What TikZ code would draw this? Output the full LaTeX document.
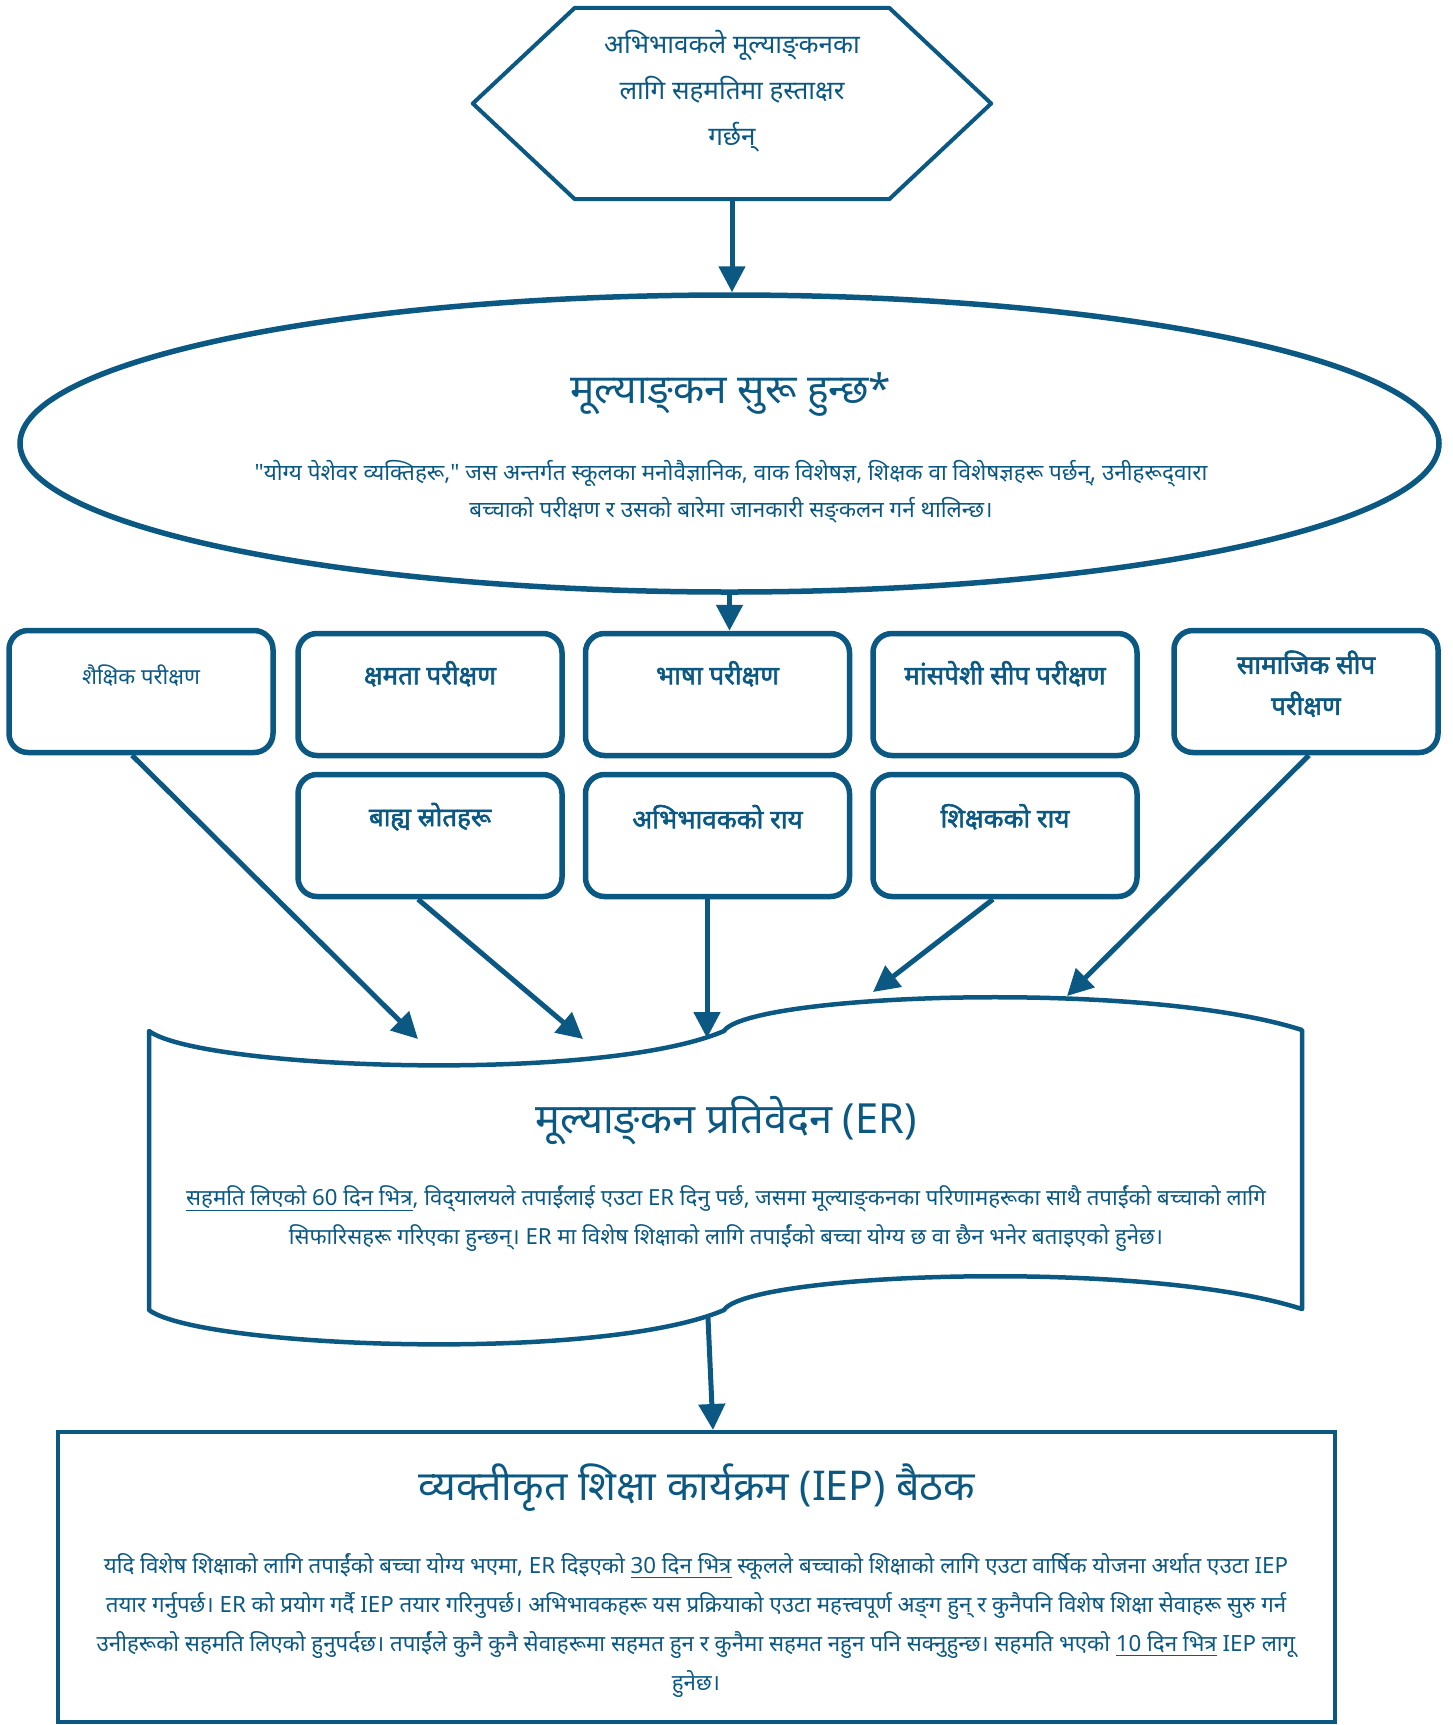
\documentclass[tikz,border=0pt]{standalone}
\usepackage{fontspec}
\setmainfont{Noto Sans}[Script=Devanagari]
\newfontfamily\boldface{Noto Sans}[Script=Devanagari, FakeBold=2.2]
\newfontfamily\plainq{Noto Sans}[Script=Devanagari]
\usetikzlibrary{arrows.meta,shapes.geometric}
\definecolor{ink}{RGB}{11,89,131}
\newcommand{\zw}{^^^^200c}
\newcommand{\qt}{{\plainq\char34}}
\begin{document}
\begin{tikzpicture}[x=1pt,y=-1pt,
  every node/.style={text=ink, inner sep=0pt},
  shapeline/.style={draw=ink, line width=4.5pt, line join=round},
  testbox/.style={draw=ink, line width=5.5pt, rounded corners=19pt, minimum width=264pt, minimum height=122pt},
  conn/.style={draw=ink, line width=5pt, -{Triangle[length=26pt,width=26pt]}},
  boxlabel/.style={font=\fontsize{26}{41}\boldface, align=center},
  plainlabel/.style={font=\fontsize{22}{41}\selectfont, align=center},
  bigtitle/.style={font=\fontsize{40.6}{48}\selectfont},
  bodytext/.style={font=\fontsize{22.3}{39}\selectfont, align=center},
  hextext/.style={font=\fontsize{26}{46}\selectfont, align=center}
]
\fill[white] (0,0) rectangle (1452,1725);
\useasboundingbox (0,0) rectangle (1452,1725);

% hexagon
\node[minimum width=518pt, minimum height=191pt] (hex) at (732,103.5) {};
\draw[shapeline, line width=4pt] (hex.west) -- ([xshift=102pt]hex.north west) -- ([xshift=-102pt]hex.north east) -- (hex.east) -- ([xshift=-102pt]hex.south east) -- ([xshift=102pt]hex.south west) -- cycle;
\node[hextext] (hext) at (732,91) {अभिभावकले मूल्याङ्\zw कनका\\लागि सहमतिमा हस्ताक्षर\\गर्छन्};

% ellipse
\node[draw=ink, line width=5.5pt, ellipse, minimum width=1419pt, minimum height=297pt] (ell) at (729.5,443.5) {};
\node[bigtitle] (elltitle) at (731,394) {मूल्याङ्\zw कन सुरू हुन्छ*};
\node[bodytext, font=\fontsize{22.5}{37}\selectfont] (ellbody) at (731,492) {\qt योग्य पेशेवर व्यक्तिहरू,\qt{} जस अन्तर्गत स्कूलका मनोवैज्ञानिक, वाक विशेषज्ञ, शिक्षक वा विशेषज्ञहरू पर्छन्, उनीहरूद्\zw वारा\\बच्चाको परीक्षण र उसको बारेमा जानकारी सङ्\zw कलन गर्न थालिन्छ।};

% test boxes
\node[testbox] (b1) at (141,691.5) {};
\node[testbox] (b2) at (430,694.5) {};
\node[testbox] (b3) at (717.5,694.5) {};
\node[testbox] (b4) at (1005,694.5) {};
\node[testbox] (b5) at (1306,691.5) {};
\node[testbox] (b6) at (430,835.5) {};
\node[testbox] (b7) at (717.5,835.5) {};
\node[testbox] (b8) at (1005,835.5) {};
\node[plainlabel] (t1) at ([yshift=-48pt]b1.north) {शैक्षिक परीक्षण};
\node[boxlabel] (t2) at ([yshift=-43pt]b2.north) {क्षमता परीक्षण};
\node[boxlabel] (t3) at ([yshift=-43pt]b3.north) {भाषा परीक्षण};
\node[boxlabel] (t4) at ([yshift=-43pt]b4.north) {मांसपेशी सीप परीक्षण};
\node[boxlabel] (t5) at ([yshift=-56pt]b5.north) {सामाजिक सीप\\परीक्षण};
\node[boxlabel] (t6) at ([yshift=-45pt]b6.north) {बाह्य स्रोतहरू};
\node[boxlabel] (t7) at ([yshift=-45pt]b7.north) {अभिभावकको राय};
\node[boxlabel] (t8) at ([yshift=-45pt]b8.north) {शिक्षकको राय};

% evaluation report (wave document)
\draw[shapeline] (149,1031) .. controls (200,1069) and (600,1084) .. (724,1031)
  .. controls (748,994) and (1143,979) .. (1302,1030) -- (1302,1309)
  .. controls (1143,1258) and (748,1273) .. (724,1310)
  .. controls (600,1363) and (200,1348) .. (149,1310) -- cycle;
\node[bigtitle, font=\fontsize{41.5}{48}\selectfont] (ertitle) at (726,1121) {मूल्याङ्\zw कन प्रतिवेदन (ER)};
\node[bodytext, font=\fontsize{22.2}{39}\selectfont] (erbody) at (726,1219) {\underline{सहमति लिएको 60 दिन भित्र}, विद्\zw यालयले तपाईंलाई एउटा ER दिनु पर्छ, जसमा मूल्याङ्\zw कनका परिणामहरूका साथै तपाईंको बच्चाको लागि\\सिफारिसहरू गरिएका हुन्छन्। ER मा विशेष शिक्षाको लागि तपाईंको बच्चा योग्य छ वा छैन भनेर बताइएको हुनेछ।};
\coordinate (in1) at (418,1039);
\coordinate (in2) at (583,1039);
\coordinate (in3) at (707,1038);
\coordinate (in4) at (873,992);
\coordinate (in5) at (1067,996);
\coordinate (erout) at (708,1318);

% IEP box
\node[draw=ink, line width=4pt, minimum width=1277pt, minimum height=290pt] (iep) at (696.5,1577) {};
\node[bigtitle, font=\fontsize{41}{48}\selectfont] (ieptitle) at (697,1488) {व्यक्तीकृत शिक्षा कार्यक्रम (IEP) बैठक};
\node[bodytext] (iepbody) at (696,1626) {यदि विशेष शिक्षाको लागि तपाईंको बच्चा योग्य भएमा, ER दिइएको \underline{30 दिन भित्र} स्कूलले बच्चाको शिक्षाको लागि एउटा वार्षिक योजना अर्थात एउटा IEP\\तयार गर्नुपर्छ। ER को प्रयोग गर्दै IEP तयार गरिनुपर्छ। अभिभावकहरू यस प्रक्रियाको एउटा महत्त्वपूर्ण अङ्\zw ग हुन् र कुनैपनि विशेष शिक्षा सेवाहरू सुरु गर्न\\उनीहरूको सहमति लिएको हुनुपर्दछ। तपाईंले कुनै कुनै सेवाहरूमा सहमत हुन र कुनैमा सहमत नहुन पनि सक्नुहुन्छ। सहमति भएको \underline{10 दिन भित्र} IEP लागू\\हुनेछ।};
\coordinate (iepin) at (713,1430);

% connectors
\draw[conn] (hex.south) -- (hex.south |- ell.north);
\draw[conn] (ell.south) -- (ell.south |- b3.north);
\draw[conn] ([xshift=-9pt]b1.south) -- (in1);
\draw[conn] ([xshift=-12pt]b6.south) -- (in2);
\draw[conn] ([xshift=-10.5pt]b7.south) -- (in3);
\draw[conn] ([xshift=-12pt]b8.south) -- (in4);
\draw[conn] ([xshift=3pt]b5.south) -- (in5);
\draw[conn] (erout) -- (iepin);
\end{tikzpicture}
\end{document}
